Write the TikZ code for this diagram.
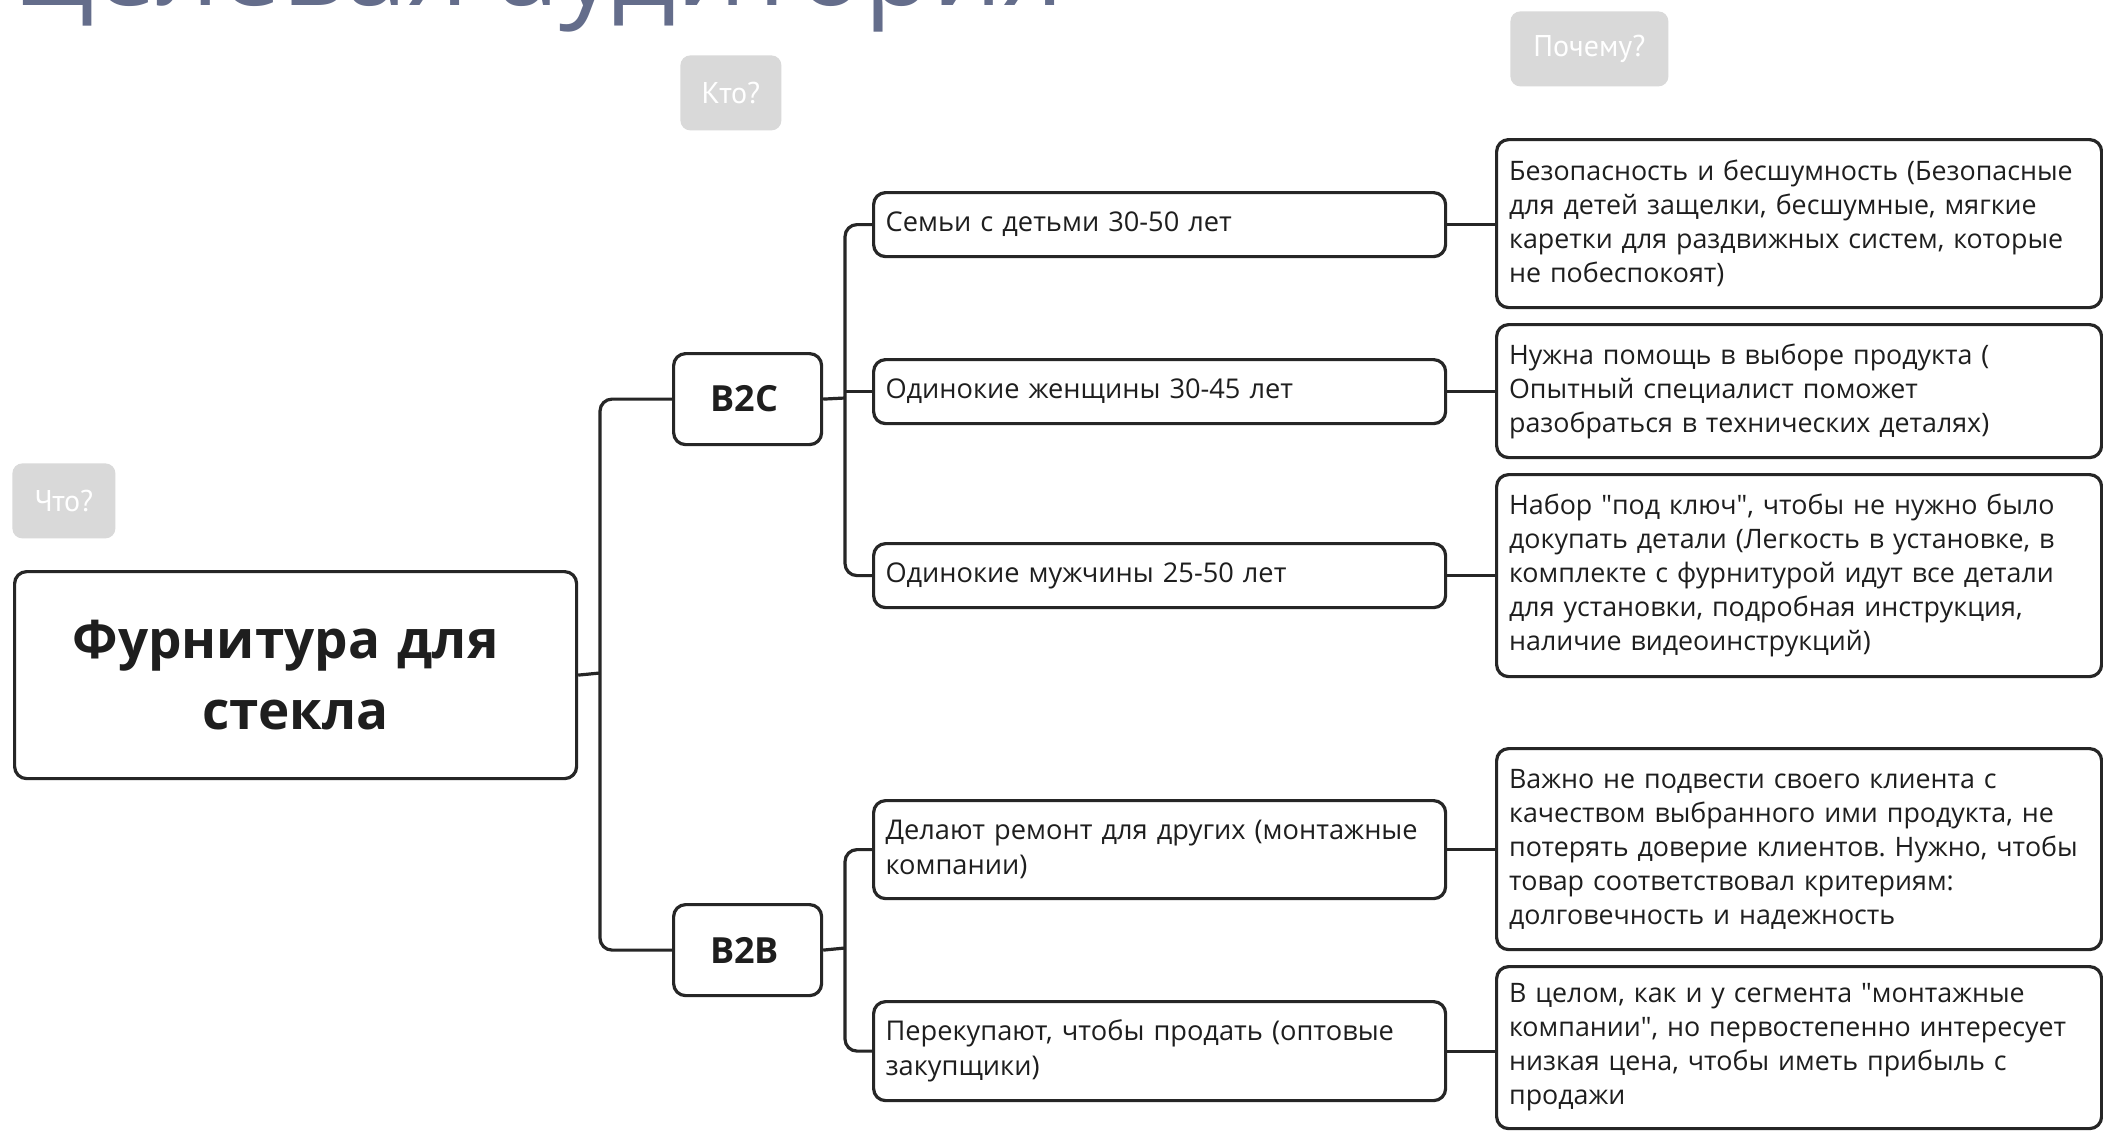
\documentclass[tikz,border=0pt]{standalone}
\usepackage{fontspec}
\setmainfont{Open Sans}
\newfontfamily\plainfont{Open Sans}
\newfontfamily\labelfont{PT Sans}
\newcommand{\qmark}{{\plainfont"}}
\usetikzlibrary{calc}
\definecolor{titlecol}{HTML}{646D8B}
\definecolor{linecol}{HTML}{262626}
\definecolor{tagfill}{HTML}{D9D9D9}
\definecolor{txt}{HTML}{1E1E1E}
\tikzset{
  box/.style={draw=linecol, line width=1.6pt, rounded corners=6pt, fill=white,
    anchor=north west, inner ysep=0pt, text=txt},
  childbox/.style={box, minimum width=286pt, text width=274pt, inner xsep=6pt,
    align=left, font=\fontsize{13.6}{17.5}\selectfont\frenchspacing},
  whybox/.style={box, minimum width=302.5pt, text width=290pt, inner xsep=6.25pt,
    align=left, font=\fontsize{13.4}{17}\selectfont\frenchspacing},
  segbox/.style={box, minimum width=74pt, minimum height=45.5pt, inner xsep=0pt,
    font=\fontsize{18}{20}\bfseries\selectfont},
  tag/.style={fill=tagfill, rounded corners=5pt, anchor=north west, inner sep=0pt,
    minimum height=37.5pt, text=white, font=\labelfont\fontsize{15}{17}\selectfont},
  conn/.style={draw=linecol, line width=1.6pt, rounded corners=6pt}
}
\begin{document}
\begin{tikzpicture}[x=0.5pt,y=-0.5pt]
\useasboundingbox (0,0) rectangle (2103,1130);
\clip (0,0) rectangle (2103,1130);
\fill[white] (0,0) rectangle (2103,1130);

% title (cut at the top)
\node[anchor=base west, inner sep=0pt, text=titlecol, font=\fontsize{55.5}{60}\selectfont]
  (title) at (12,5) {Целевая аудитория};

% grey tags
\node[tag, minimum width=50.5pt] (kto) at (680,55) {Кто?};
\node[tag, minimum width=79pt] (why) at (1510,11) {Почему?};
\node[tag, minimum width=51.5pt] (what) at (12,463) {Что?};

% main node
\node[box, minimum width=281pt, minimum height=103.5pt, text width=270pt, align=center,
  font=\fontsize{26.5}{35.5}\bfseries\selectfont] (main) at (13,570)
  {\hspace*{-10pt}Фурнитура для\\стекла};

% segments
\node[segbox] (b2c) at (672,352) {B2C\hspace*{3pt}};
\node[segbox] (b2b) at (672,903) {B2B\hspace*{3pt}};

% audiences
\node[childbox, minimum height=32pt] (c1) at (872,191) {Семьи с детьми 30-50 лет};
\node[childbox, minimum height=32pt] (c2) at (872,358) {Одинокие женщины 30-45 лет};
\node[childbox, minimum height=32pt] (c3) at (872,542) {Одинокие мужчины 25-50 лет};
\node[childbox, minimum height=49pt] (c4) at (872,799) {Делают ремонт для других (монтажные\\компании)};
\node[childbox, minimum height=49.5pt] (c5) at (872,1000) {Перекупают, чтобы продать (оптовые\\закупщики)};

% reasons
\node[whybox, minimum height=84pt] (r1) at (1495,138)
  {Безопасность и бесшумность (Безопасные\\для детей защелки, бесшумные, мягкие\\каретки для раздвижных систем, которые\\не побеспокоят)};
\node[whybox, minimum height=66.5pt] (r2) at (1495,323)
  {Нужна помощь в выборе продукта (\\Опытный специалист поможет\\разобраться в технических деталях)};
\node[whybox, minimum height=101pt] (r3) at (1495,473)
  {Набор \qmark под ключ\qmark, чтобы не нужно было\\докупать детали (Легкость в установке, в\\комплекте с фурнитурой идут все детали\\для установки, подробная инструкция,\\наличие видеоинструкций)};
\node[whybox, minimum height=100.5pt] (r4) at (1495,747)
  {Важно не подвести своего клиента с\\качеством выбранного ими продукта, не\\потерять доверие клиентов. Нужно, чтобы\\товар соответствовал критериям:\\долговечность и надежность};
\node[whybox, minimum height=81pt] (r5) at (1495,965)
  {В целом, как и у сегмента \qmark монтажные\\компании\qmark, но первостепенно интересует\\низкая цена, чтобы иметь прибыль с\\продажи};

% connectors
\coordinate (t) at (600,673);
\coordinate (v1) at (845,398);
\coordinate (v2) at (845,948);
\draw[conn] (main.east) -- (t);
\draw[conn] (b2c.west) -| (t) |- (b2b.west);
\draw[conn] (b2c.east) -- (v1);
\draw[conn] (c1.west) -| (v1) |- (c3.west);
\draw[conn] (c2.west) -- (c2.west -| v1);
\draw[conn] (b2b.east) -- (v2);
\draw[conn] (c4.west) -| (v2) |- (c5.west);
\foreach \i in {1,...,5} {
  \draw[conn] (c\i.east) -- (c\i.east -| r\i.west);
}
\end{tikzpicture}
\end{document}
